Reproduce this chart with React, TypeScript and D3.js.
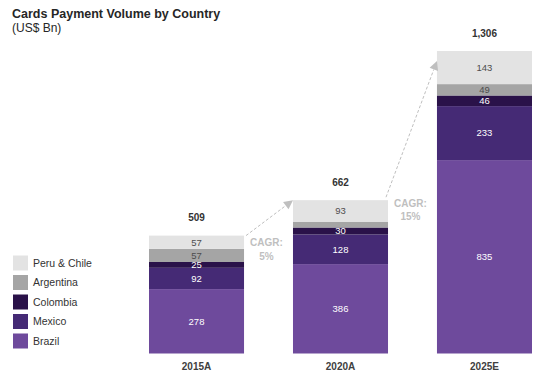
import React from "react";
import * as d3 from "d3";

const categories = ["2015A", "2020A", "2025E"];
const seriesNames = ["Brazil", "Mexico", "Colombia", "Argentina", "Peru & Chile"];
const brazil = [278, 386, 835];
const mexico = [92, 128, 233];
const colombia = [25, 30, 46];
const argentina = [57, 25, 49];
const peruChile = [57, 93, 143];
const totalLabels = ["509", "662", "1,306"];
const cagrLabels = ["5%", "15%"];

const colors = ["#6e4a9c", "#452a75", "#2a1249", "#a5a5a5", "#e3e3e3"];
const textColors = ["#ffffff", "#ffffff", "#ffffff", "#4d4d4d", "#4d4d4d"];
const hideLabel = [[false, false, false], [false, false, false], [false, false, false], [false, true, false], [false, false, false]];

const W = 550;
const H = 377;

export default function App() {
  const seriesValues = [brazil, mexico, colombia, argentina, peruChile];
  const rows = categories.map((c, i) => {
    const r: any = { cat: c };
    seriesNames.forEach((s, k) => (r[s] = seriesValues[k][i]));
    return r;
  });
  const stacked = d3.stack<any>().keys(seriesNames)(rows);
  const totals = categories.map((_, i) => seriesValues.reduce((a, s) => a + s[i], 0));

  const x = d3.scaleBand<string>().domain(categories).range([149, 532]).paddingInner(0.34).paddingOuter(0);
  const y = d3.scaleLinear().domain([0, 1306]).range([353.5, 51]);
  const bw = x.bandwidth();
  const font = "Arial, 'Liberation Sans', Helvetica, sans-serif";
  const gray = "#bfbfbf";

  const arrows = categories.slice(0, -1).map((c, i) => {
    const x1 = (x(c) as number) + bw + (i === 0 ? 2 : -2);
    const y1 = y(totals[i]) + (i === 0 ? 0 : -3);
    const x2 = x(categories[i + 1]) as number;
    const y2 = y(totals[i + 1]) + (i === 0 ? 0 : 10);
    const ang = Math.atan2(y2 - y1, x2 - x1);
    const L = 9, Wd = 4.5;
    const bx = x2 - L * Math.cos(ang), by = y2 - L * Math.sin(ang);
    const pts = [
      [x2, y2],
      [bx + Wd * Math.sin(ang), by - Wd * Math.cos(ang)],
      [bx - Wd * Math.sin(ang), by + Wd * Math.cos(ang)],
    ];
    const mx = ((x(c) as number) + bw + (x(categories[i + 1]) as number)) / 2 - 2;
    const my = y(totals[i]) + (i === 0 ? 7 : 3);
    return { x1, y1, bx, by, pts, mx, my, label: cagrLabels[i] };
  });

  const legendOrder = [4, 3, 2, 1, 0];

  return (
    <svg width={W} height={H} style={{ position: "absolute", left: 0, top: 0, background: "#fff" }} fontFamily={font}>
      <text x={12} y={18} fontSize={12.5} fontWeight="bold" fill="#262626">Cards Payment Volume by Country</text>
      <text x={12} y={32} fontSize={12} fill="#262626">(US$ Bn)</text>

      {stacked.map((s, k) => (
        <g key={s.key}>
          {s.map((d, i) => (
            <rect key={i} x={x(categories[i])} y={y(d[1])} width={bw} height={y(d[0]) - y(d[1])} fill={colors[k]} />
          ))}
        </g>
      ))}
      {stacked.map((s, k) => (
        <g key={s.key + "t"}>
          {s.map((d, i) =>
            hideLabel[k][i] ? null : (
              <text key={i} x={(x(categories[i]) as number) + bw / 2} y={(y(d[0]) + y(d[1])) / 2} dy="0.35em" textAnchor="middle" fontSize={9.5} fill={textColors[k]}>
                {seriesValues[k][i]}
              </text>
            )
          )}
        </g>
      ))}

      {categories.map((c, i) => (
        <g key={c}>
          <text x={(x(c) as number) + bw / 2} y={y(totals[i]) - 18} dy="0.35em" textAnchor="middle" fontSize={10} fontWeight="bold" fill="#333">{totalLabels[i]}</text>
          <text x={(x(c) as number) + bw / 2} y={366} dy="0.35em" textAnchor="middle" fontSize={10} fontWeight="bold" fill="#404040">{c}</text>
        </g>
      ))}

      {arrows.map((a, i) => (
        <g key={i}>
          <line x1={a.x1} y1={a.y1} x2={a.bx} y2={a.by} stroke={gray} strokeWidth={1} strokeDasharray="3,2" />
          <polygon points={a.pts.map((p) => p.join(",")).join(" ")} fill={gray} />
          <text x={a.mx} y={a.my} dy="0.35em" textAnchor="middle" fontSize={10} fontWeight="bold" fill={gray}>CAGR:</text>
          <text x={a.mx} y={a.my + 13.5} dy="0.35em" textAnchor="middle" fontSize={10} fontWeight="bold" fill={gray}>{a.label}</text>
        </g>
      ))}

      {legendOrder.map((k, j) => (
        <g key={k} transform={`translate(13, ${263 + j * 19.5})`}>
          <rect x={0} y={-7.5} width={15} height={15} fill={colors[k]} />
          <text x={20} y={0} dy="0.35em" fontSize={10.5} fill="#333">{seriesNames[k]}</text>
        </g>
      ))}
    </svg>
  );
}
